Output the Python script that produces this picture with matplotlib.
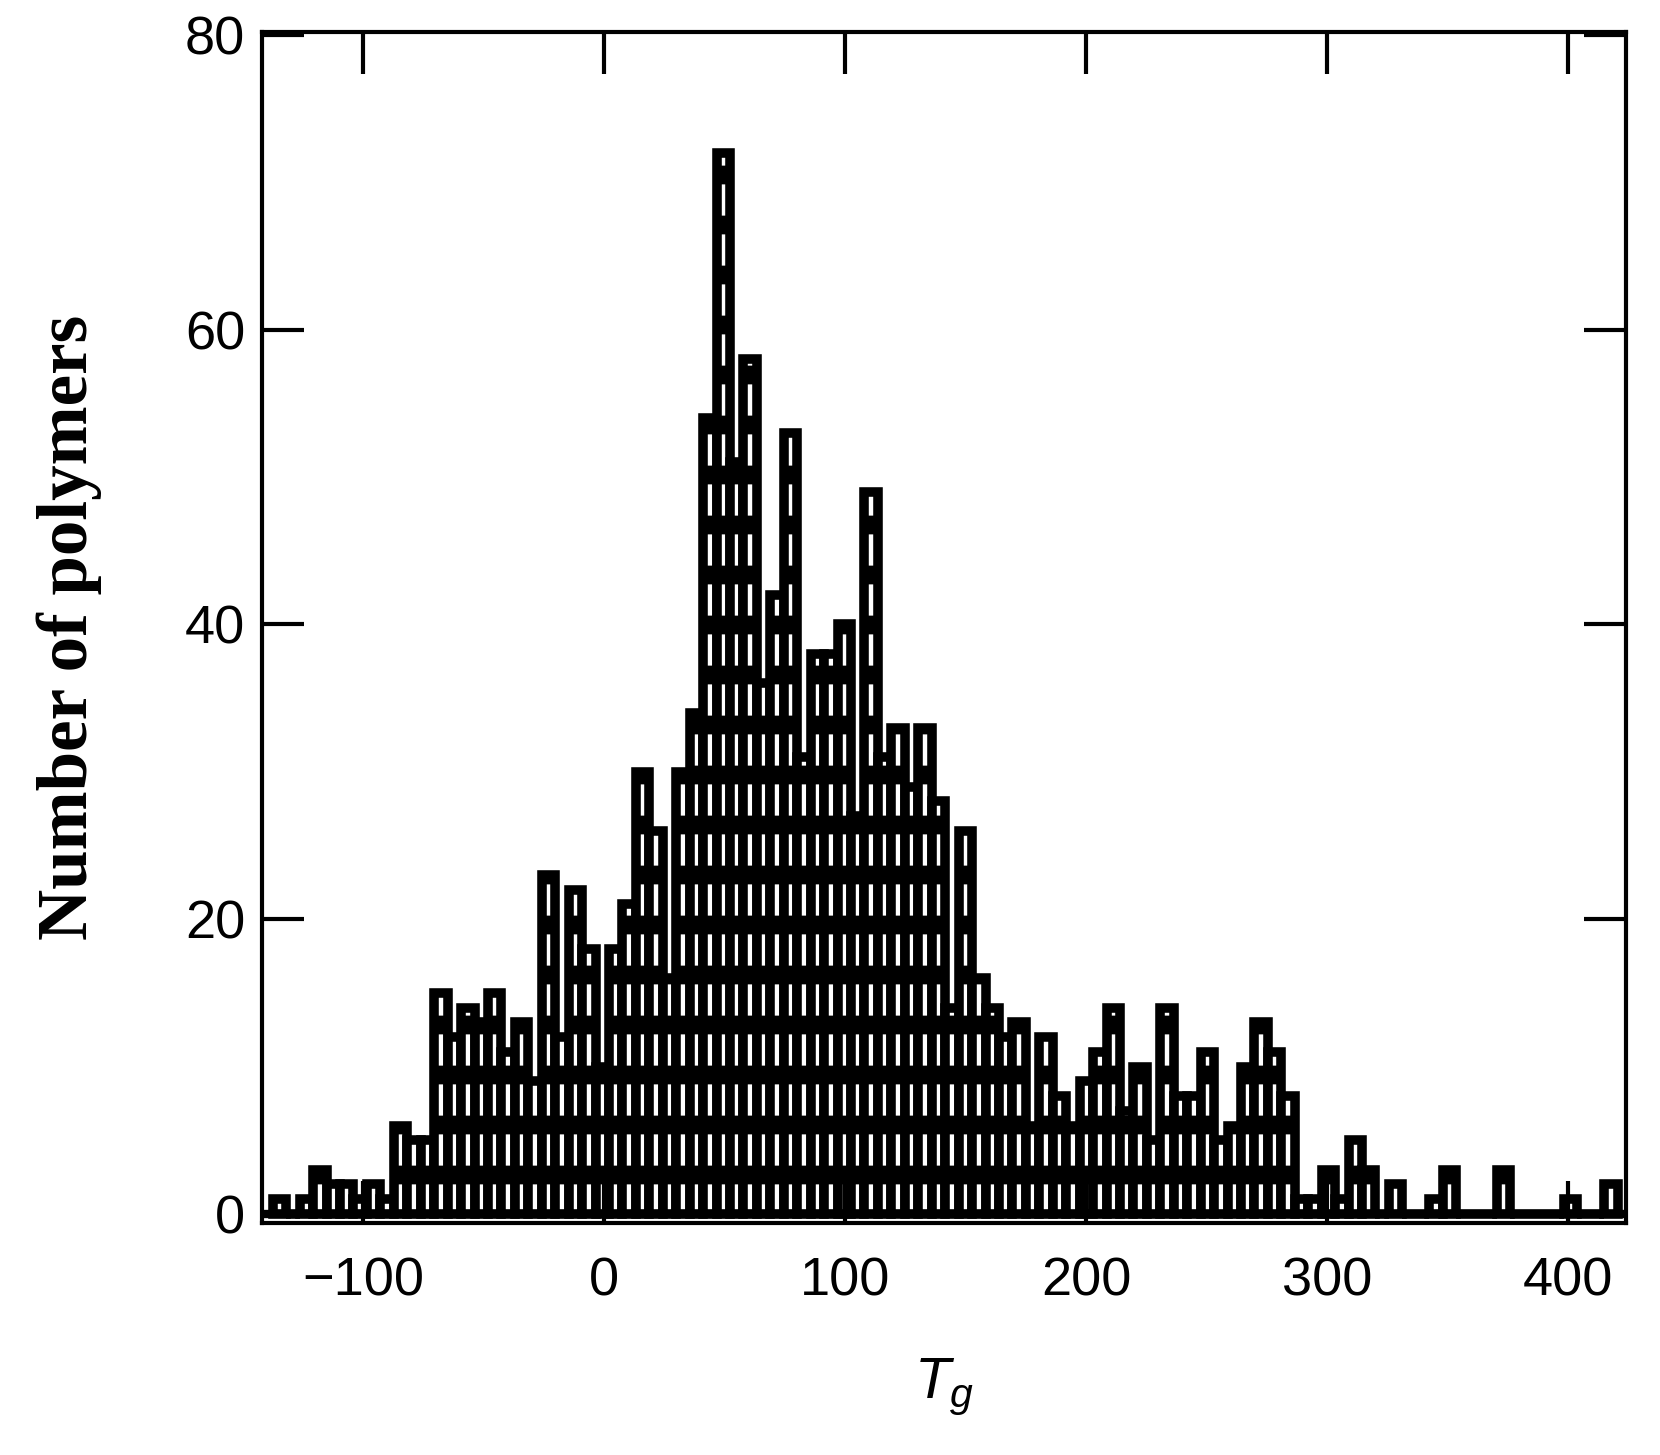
import numpy as np
import matplotlib
matplotlib.use("Agg")
import matplotlib.pyplot as plt

# Histogram of glass transition temperatures (100 equal bins)
tg_low = -137.5
tg_high = 420.5
counts = [1, 0, 1, 3, 2, 2, 1, 2, 1, 6,
          5, 5, 15, 12, 14, 13, 15, 11, 13, 9,
          23, 12, 22, 18, 10, 18, 21, 30, 26, 16,
          30, 34, 54, 72, 51, 58, 36, 42, 53, 31,
          38, 38, 40, 27, 49, 31, 33, 29, 33, 28,
          14, 26, 16, 14, 12, 13, 6, 12, 8, 6,
          9, 11, 14, 7, 10, 5, 14, 8, 8, 11,
          5, 6, 10, 13, 11, 8, 1, 1, 3, 1,
          5, 3, 0, 2, 0, 0, 1, 3, 0, 0,
          0, 3, 0, 0, 0, 0, 1, 0, 0, 2]

x_ticks = [-100, 0, 100, 200, 300, 400]
y_ticks = [0, 20, 40, 60, 80]

edges = np.linspace(tg_low, tg_high, len(counts) + 1)
widths = np.diff(edges)

plt.rcParams['font.family'] = ['Liberation Sans', 'DejaVu Sans']
plt.rcParams['mathtext.fontset'] = 'custom'
plt.rcParams['mathtext.it'] = 'Liberation Sans:italic'
plt.rcParams['mathtext.rm'] = 'Liberation Sans'
plt.rcParams['hatch.linewidth'] = 4.5

fig = plt.figure(figsize=(1660 / 300, 1455 / 300), dpi=300)
ax = fig.add_axes([0.1578, 0.1596, 0.9795 - 0.1578, 0.9781 - 0.1596])

ax.bar(edges[:-1], counts, width=widths, align='edge', facecolor='white',
       edgecolor='black', linewidth=2.3, hatch='-')
ax.axhline(0, color='black', linewidth=2.0)

ax.set_xlim(-142, 424)
ax.set_ylim(-0.6, 80.2)
ax.set_xticks(x_ticks)
ax.set_yticks(y_ticks)
ax.tick_params(direction='in', length=10, width=1.0, top=True, right=True,
               labelsize=13)
ax.tick_params(axis='x', pad=8)
ax.tick_params(axis='y', pad=4)
for s in ax.spines.values():
    s.set_linewidth(1.0)

ax.set_xlabel('$T_g$', fontsize=14, labelpad=12)
ax.set_ylabel('Number of polymers', fontsize=17, fontweight='bold',
              family='Liberation Serif', labelpad=20)

fig.savefig('out.png', dpi=300)
